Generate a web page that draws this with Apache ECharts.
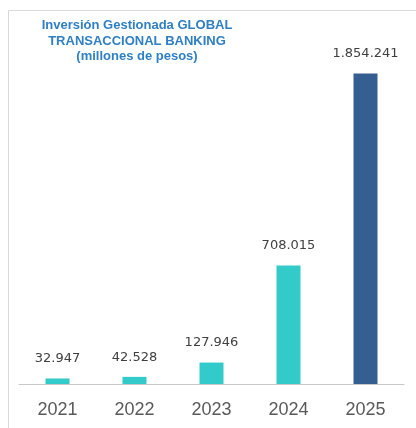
<!DOCTYPE html>
<html>
<head>
<meta charset="utf-8">
<script src="https://cdn.jsdelivr.net/npm/echarts@6/dist/echarts.min.js"></script>
<style>html,body{margin:0;padding:0;background:#fff}#c{width:416px;height:428px}</style>
</head>
<body>
<div id="c"></div>
<script>
const categories = ['2021', '2022', '2023', '2024', '2025'];
const values = [32947, 42528, 127946, 708015, 1854241];
const barColors = ['#33CBC9', '#33CBC9', '#33CBC9', '#33CBC9', '#365F91'];
const titleLines = ['Inversión Gestionada GLOBAL', 'TRANSACCIONAL BANKING', '(millones de pesos)'];

function fmt(v) {
  return String(v).replace(/\B(?=(\d{3})+(?!\d))/g, '.');
}

const chart = echarts.init(document.getElementById('c'));
chart.setOption({
  animation: false,
  title: {
    text: titleLines.join('\n'),
    left: 132,
    top: 13,
    textAlign: 'center',
    textStyle: {
      fontFamily: 'Liberation Sans, Arial',
      fontSize: 13,
      fontWeight: 'bold',
      color: '#2F7FC4',
      lineHeight: 15.5
    }
  },
  graphic: [
    { type: 'line', shape: { x1: 8.5, y1: 10.5, x2: 416, y2: 10.5 }, style: { stroke: '#d9d9d9', lineWidth: 1 }, silent: true },
    { type: 'line', shape: { x1: 8.5, y1: 10.5, x2: 8.5, y2: 428 }, style: { stroke: '#d9d9d9', lineWidth: 1 }, silent: true }
  ],
  grid: { left: 19, right: 12, top: 49, bottom: 44 },
  xAxis: {
    type: 'category',
    data: categories,
    axisLine: { show: true, lineStyle: { color: '#c8c8c8', width: 1 } },
    axisTick: { show: false },
    axisLabel: { color: '#595959', fontSize: 18, margin: 17, fontFamily: 'Liberation Sans, Arial' }
  },
  yAxis: {
    type: 'value',
    min: 0,
    max: 2000000,
    show: false,
    splitLine: { show: false }
  },
  series: [{
    type: 'bar',
    barWidth: 24,
    data: values.map((v, i) => ({ value: v, itemStyle: { color: barColors[i] } })),
    label: {
      show: true,
      position: 'top',
      distance: 13,
      color: '#404040',
      fontSize: 13,
      fontFamily: 'DejaVu Sans, Verdana',
      formatter: p => fmt(p.value)
    }
  }]
});
</script>
</body>
</html>
